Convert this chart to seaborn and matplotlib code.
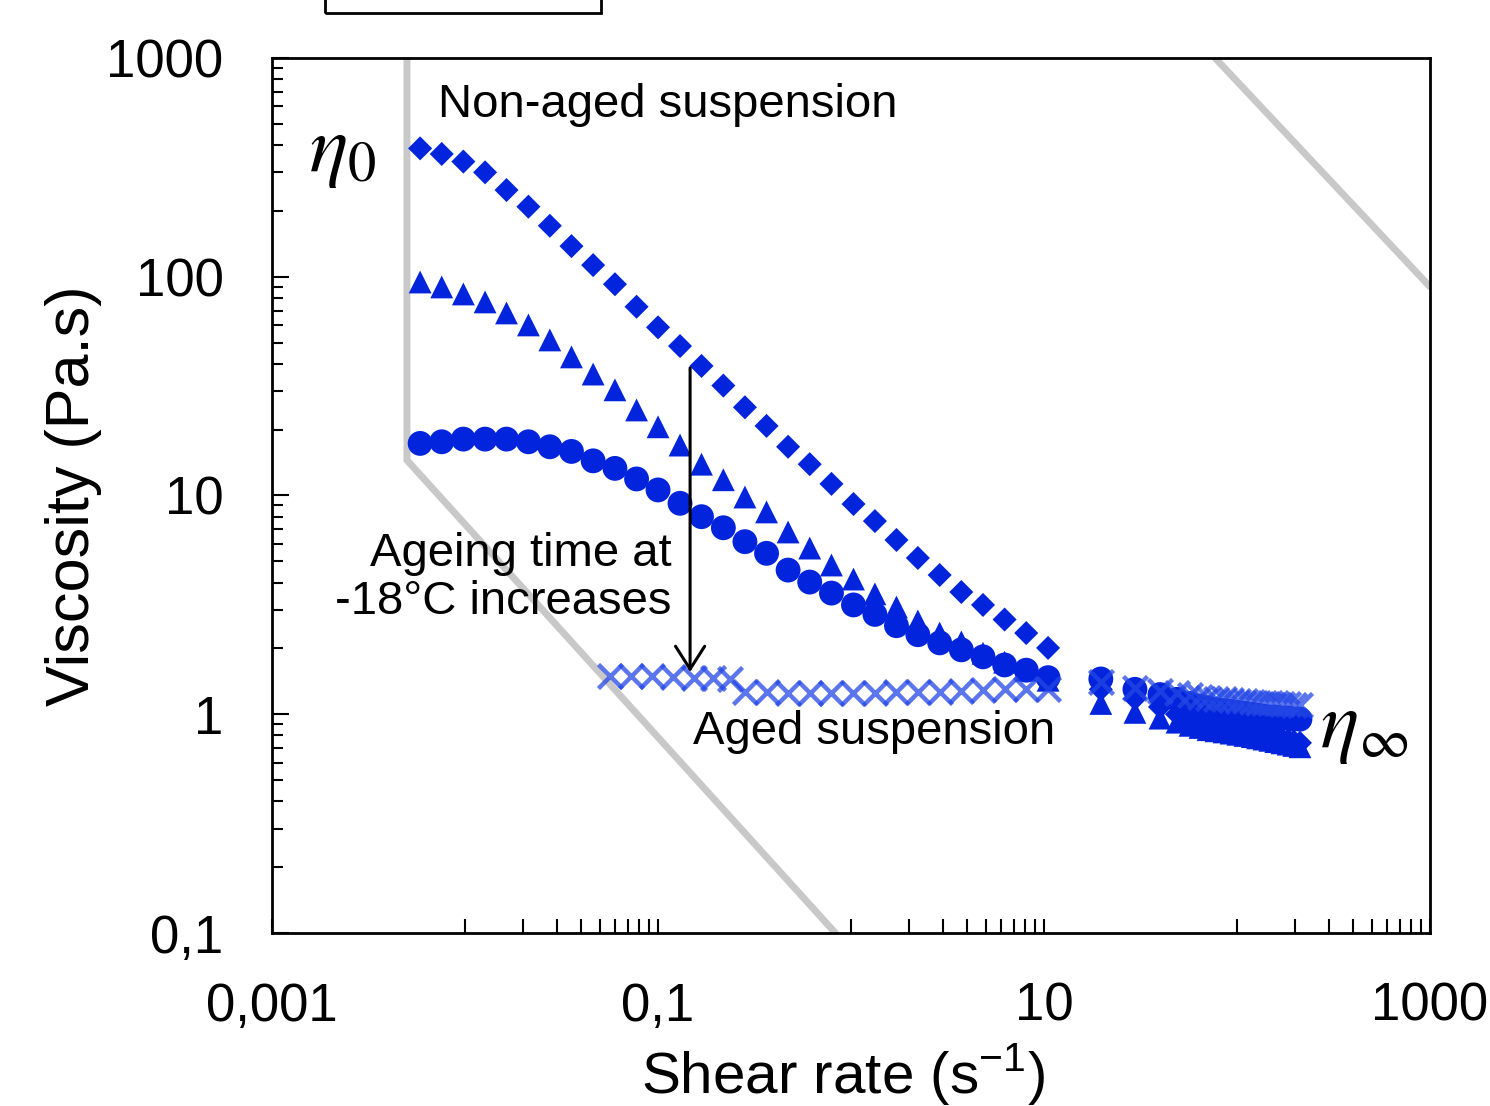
import matplotlib
matplotlib.use('Agg')
import matplotlib.pyplot as plt
import matplotlib.ticker as mticker
from matplotlib.patches import Rectangle
import pandas as pd
import seaborn as sns

# shear rates (1/s): low-rate sweep and high-rate sweep
shear_low = [0.00585, 0.00757, 0.0098, 0.0127, 0.0164, 0.0213, 0.0275, 0.0356, 0.0461, 0.0598,
             0.0774, 0.100, 0.130, 0.168, 0.218, 0.282, 0.365, 0.472, 0.611, 0.792,
             1.03, 1.33, 1.72, 2.22, 2.88, 3.73, 4.83, 6.25, 8.09, 10.5]
shear_high = [19.7, 29.6, 39.9, 48.9, 57.1, 64.3, 70.8, 77.9, 85.7, 93.2, 101,
              110, 120, 128, 138, 148, 159, 171, 184, 197, 212]
shear_aged_low = [0.0564, 0.0725, 0.0931, 0.120, 0.154, 0.193, 0.236]

# viscosity (Pa.s)
eta_nonaged = [386, 364, 336, 300, 249, 209, 171, 138, 113, 92.4,
               72.9, 58.7, 48.2, 39.1, 31.8, 25.3, 20.8, 16.7, 13.9, 11.3,
               9.14, 7.64, 6.26, 5.18, 4.33, 3.62, 3.16, 2.71, 2.35, 2.01]
eta_nonaged_high = [1.30, 1.18, 1.08, 1.00, 0.95, 0.92, 0.90, 0.88, 0.86, 0.85, 0.84,
                    0.83, 0.82, 0.81, 0.80, 0.79, 0.78, 0.77, 0.76, 0.75, 0.74]
eta_tri = [94.6, 89.8, 83.4, 76.7, 68.3, 60.2, 51.4, 43.0, 35.9, 30.4,
           24.6, 20.6, 17.0, 13.9, 11.8, 9.84, 8.41, 6.81, 5.75, 4.81,
           4.15, 3.55, 3.09, 2.67, 2.35, 2.14, 1.90, 1.73, 1.59, 1.43]
eta_tri_high = [1.12, 1.02, 0.96, 0.92, 0.89, 0.87, 0.85, 0.84, 0.83, 0.82, 0.81,
                0.80, 0.79, 0.78, 0.77, 0.76, 0.75, 0.74, 0.73, 0.72, 0.71]
eta_circ = [17.3, 17.6, 18.1, 18.1, 18.1, 17.6, 16.7, 15.9, 14.4, 13.3,
            11.9, 10.6, 9.21, 8.00, 7.12, 6.15, 5.44, 4.56, 4.02, 3.58,
            3.16, 2.86, 2.54, 2.31, 2.12, 1.97, 1.83, 1.68, 1.59, 1.47]
eta_circ_high = [1.45, 1.30, 1.23, 1.17, 1.12, 1.09, 1.07, 1.05, 1.04, 1.03, 1.02,
                 1.01, 1.00, 0.99, 0.98, 0.97, 0.97, 0.96, 0.96, 0.95, 0.95]
eta_aged_low = [1.50, 1.49, 1.49, 1.48, 1.47, 1.46, 1.45]
eta_aged = [1.27, 1.26, 1.25, 1.25, 1.25, 1.25, 1.25, 1.26, 1.26, 1.27,
            1.28, 1.29, 1.30, 1.31, 1.31]
eta_aged_high = [1.40, 1.32, 1.28, 1.25, 1.22, 1.20, 1.19, 1.18, 1.17, 1.16, 1.15,
                 1.15, 1.14, 1.13, 1.13, 1.12, 1.12, 1.11, 1.11, 1.10, 1.10]

# grey guide lines (data units)
guide_left_x = [0.005, 0.005, 0.83]
guide_left_y = [1000, 14.5, 0.1]
guide_right_x = [77, 1000]
guide_right_y = [1000, 90]

xtick_vals = [0.001, 0.1, 10, 1000]
xtick_labels = ['0,001', '0,1', '10', '1000']
ytick_vals = [0.1, 1, 10, 100, 1000]
ytick_labels = ['0,1', '1', '10', '100', '1000']

blue = '#0224dc'
cross_blue = '#2447e6'

sns.set_style('white')
plt.rcParams['font.family'] = ['Liberation Sans', 'DejaVu Sans']
plt.rcParams['text.color'] = 'black'
plt.rcParams['axes.labelcolor'] = 'black'
plt.rcParams['xtick.color'] = 'black'
plt.rcParams['ytick.color'] = 'black'

fig = plt.figure(figsize=(14.9, 11.06), dpi=100)
ax = fig.add_axes([0.1826, 0.1564, 0.7771, 0.7912])
ax.set_xscale('log')
ax.set_yscale('log')

ax.plot(guide_left_x, guide_left_y, color='#c8c8c8', lw=5, zorder=1, solid_joinstyle='miter')
ax.plot(guide_right_x, guide_right_y, color='#c8c8c8', lw=5, zorder=1)

sns.scatterplot(x=shear_low + shear_high, y=eta_nonaged + eta_nonaged_high, marker='D',
                s=150, color=blue, edgecolor='none', ax=ax, zorder=3)
sns.scatterplot(x=shear_low + shear_high, y=eta_tri + eta_tri_high, marker='^',
                s=270, color=blue, edgecolor='none', ax=ax, zorder=3)
sns.scatterplot(x=shear_low + shear_high, y=eta_circ + eta_circ_high, marker='o',
                s=320, color=blue, edgecolor='none', ax=ax, zorder=3)
sns.scatterplot(x=shear_aged_low + shear_low[15:] + shear_high,
                y=eta_aged_low + eta_aged + eta_aged_high, marker='x',
                s=300, color=cross_blue, linewidth=3.2, alpha=0.75, ax=ax, zorder=4)

ax.set_xlim(0.001, 1000)
ax.set_ylim(0.1, 1000)

ax.xaxis.set_major_locator(mticker.FixedLocator(xtick_vals))
ax.xaxis.set_major_formatter(mticker.FixedFormatter(xtick_labels))
ax.xaxis.set_minor_locator(mticker.FixedLocator(
    [k * 10.0 ** e for e in (-2, 0, 2) for k in range(1, 10)]))
ax.xaxis.set_minor_formatter(mticker.NullFormatter())
ax.yaxis.set_major_locator(mticker.FixedLocator(ytick_vals))
ax.yaxis.set_major_formatter(mticker.FixedFormatter(ytick_labels))
ax.yaxis.set_minor_locator(mticker.LogLocator(base=10, subs=range(2, 10), numticks=20))
ax.yaxis.set_minor_formatter(mticker.NullFormatter())

ax.tick_params(axis='both', which='both', direction='in', top=False, right=False,
               bottom=True, left=True, width=1.5, colors='black', labelsize=38)
ax.tick_params(axis='x', which='both', length=10, pad=35)
ax.tick_params(axis='y', which='major', length=12, pad=35)
ax.tick_params(axis='y', which='minor', length=8)

for sp in ax.spines.values():
    sp.set_linewidth(2)
    sp.set_color('black')

ax.set_xlabel('Shear rate (s$^{\\mathregular{-1}}$)', fontsize=42)
ax.set_ylabel('Viscosity (Pa.s)', fontsize=44)
ax.xaxis.set_label_coords(0.493, -0.124)
ax.yaxis.set_label_coords(-0.147, 0.5)

ax.text(0.00724, 610, 'Non-aged suspension', fontsize=34, ha='left', va='center')
ax.text(0.118, 4.2, 'Ageing time at\n-18°C increases', fontsize=34, ha='right',
        va='center', multialignment='right', linespacing=1.1)
ax.text(0.152, 0.83, 'Aged suspension', fontsize=34, ha='left', va='center')
ax.text(0.00232, 370, r'$\eta_0$', fontsize=58, ha='center', va='center',
        math_fontfamily='stix')
ax.text(270, 0.865, r'$\eta_\infty$', fontsize=58, ha='left', va='center',
        math_fontfamily='stix')

ax.annotate('', xy=(0.1466, 1.56), xytext=(0.1466, 38.3),
            arrowprops=dict(arrowstyle='->,head_length=0.55,head_width=0.35',
                            lw=2.2, color='black', mutation_scale=30,
                            shrinkA=0, shrinkB=0), zorder=5)

# cropped box at the top edge
fig.add_artist(Rectangle((0.2181, 0.9882), 0.1852, 0.05, transform=fig.transFigure,
                         fill=False, lw=2, ec='black', clip_on=False))

fig.savefig('out.png', dpi=100)
